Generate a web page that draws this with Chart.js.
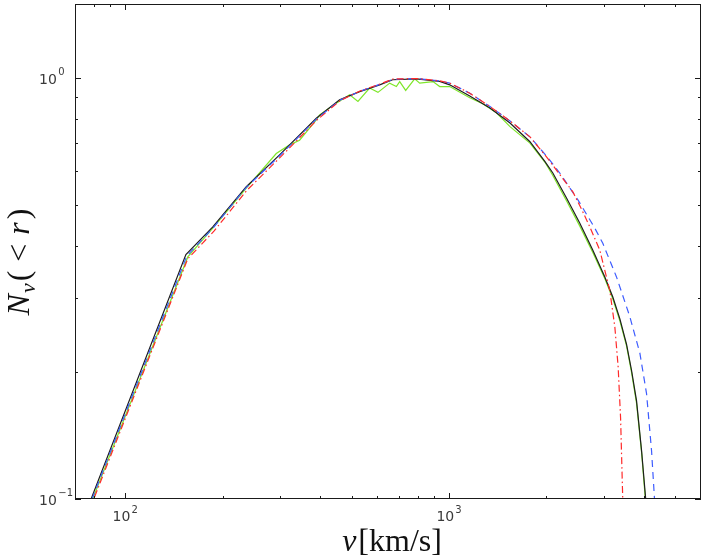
<!DOCTYPE html>
<html>
<head>
<meta charset="utf-8">
<script src="https://cdn.jsdelivr.net/npm/chart.js@4.4.0/dist/chart.umd.min.js"></script>
<style>
    html, body { margin: 0; padding: 0; background: #fff; }
</style>
</head>
<body>
<canvas id="myChart" width="706" height="559"></canvas>
<script>
// velocity (km/s) and N_v(<r), one pair of arrays per curve
const vBlack = [76, 78.5, 154, 186.5, 236.6, 299.8, 389.3, 459.4, 529.7, 610.6, 669.9, 792.8, 936.1, 1005, 1159, 1338, 1543, 1778, 1979, 2092, 2306, 2535, 2781, 3028, 3205, 3370, 3534, 3662, 3794, 3933, 4045, 4100];
const nBlack = [0.094, 0.100, 0.381, 0.443, 0.552, 0.657, 0.803, 0.888, 0.929, 0.964, 0.991, 0.996, 0.982, 0.964, 0.907, 0.849, 0.782, 0.706, 0.633, 0.595, 0.519, 0.452, 0.390, 0.337, 0.302, 0.268, 0.233, 0.202, 0.171, 0.130, 0.101, 0.088];

const vGreen = [77, 79.4, 156.1, 186.5, 236.6, 292.8, 321.9, 345.6, 389.3, 398.6, 443.6, 493.4, 523.4, 568.7, 603.4, 655.8, 687.8, 704.3, 734.9, 783.4, 812, 892.4, 936.1, 1005, 1159, 1271, 1401, 1543, 1778, 1979, 2092, 2306, 2535, 2781, 3028, 3205, 3370, 3534, 3662, 3794, 3933, 4040, 4100];
const nGreen = [0.094, 0.100, 0.376, 0.440, 0.548, 0.662, 0.694, 0.712, 0.796, 0.818, 0.867, 0.913, 0.880, 0.947, 0.925, 0.973, 0.955, 0.981, 0.935, 0.996, 0.973, 0.981, 0.955, 0.955, 0.898, 0.869, 0.827, 0.767, 0.701, 0.631, 0.587, 0.511, 0.445, 0.385, 0.334, 0.299, 0.265, 0.231, 0.200, 0.169, 0.129, 0.100, 0.086];

const vBlue = [76.5, 79, 155, 187, 237, 300, 390, 460, 530, 611, 670, 793, 936, 1005, 1159, 1338, 1543, 1778, 2000, 2198, 2504, 2820, 2985, 3290, 3618, 3885, 4074, 4222, 4301, 4347];
const nBlue = [0.094, 0.100, 0.378, 0.441, 0.551, 0.654, 0.800, 0.886, 0.930, 0.966, 0.993, 0.998, 0.985, 0.973, 0.921, 0.856, 0.791, 0.725, 0.653, 0.595, 0.513, 0.440, 0.405, 0.337, 0.271, 0.222, 0.178, 0.130, 0.103, 0.090];

const vRed = [77.5, 80, 156, 188, 238, 301, 391, 461, 531, 612, 671, 794, 936, 1005, 1159, 1338, 1543, 1778, 2000, 2198, 2412, 2590, 2722, 2922, 3137, 3252, 3329, 3387, 3436, 3450];
const nRed = [0.094, 0.100, 0.372, 0.433, 0.542, 0.648, 0.795, 0.884, 0.932, 0.968, 0.995, 0.998, 0.985, 0.973, 0.921, 0.856, 0.791, 0.725, 0.650, 0.590, 0.537, 0.481, 0.443, 0.390, 0.313, 0.256, 0.206, 0.156, 0.103, 0.090];

// ticks
const xMajor = [100, 1000];
const xMajorExp = ['2', '3'];
const xMinor = [80, 90, 200, 300, 400, 500, 600, 700, 800, 900, 2000, 3000, 4000, 5000];
const yMajor = [0.1, 1];
const yMajorExp = ['\u22121', '0'];
const yMinor = [0.2, 0.3, 0.4, 0.5, 0.6, 0.7, 0.8, 0.9];

const toPoints = (vs, ns) => vs.map((v, i) => ({ x: v, y: ns[i] }));

const lineSet = (label, vs, ns, color, dash) => ({
    label,
    data: toPoints(vs, ns),
    borderColor: color,
    borderWidth: 1.2,
    borderDash: dash,
    pointRadius: 0,
    tension: 0,
    fill: false
});

const decorations = {
    id: 'decorations',
    afterDatasetsDraw(chart) {
        const { ctx, chartArea: a, scales } = chart;
        const sx = scales.x, sy = scales.y;
        ctx.save();
        ctx.strokeStyle = '#1a1a1a';
        ctx.lineWidth = 1;
        ctx.setLineDash([]);
        ctx.beginPath();
        const xTick = (v, len) => {
            const p = Math.round(sx.getPixelForValue(v)) + 0.5;
            ctx.moveTo(p, a.bottom); ctx.lineTo(p, a.bottom - len);
            ctx.moveTo(p, a.top); ctx.lineTo(p, a.top + len);
        };
        const yTick = (v, len) => {
            const p = Math.round(sy.getPixelForValue(v)) + 0.5;
            ctx.moveTo(a.left, p); ctx.lineTo(a.left + len, p);
            ctx.moveTo(a.right, p); ctx.lineTo(a.right - len, p);
        };
        xMajor.forEach(v => xTick(v, 6));
        xMinor.forEach(v => xTick(v, 3));
        yMajor.forEach(v => yTick(v, 6));
        yMinor.forEach(v => yTick(v, 3));
        ctx.stroke();
        ctx.strokeRect(a.left + 0.5, a.top + 0.5, a.right - a.left - 1, a.bottom - a.top - 1);

        // tick labels 10^n
        ctx.fillStyle = '#3a3a3a';
        ctx.textBaseline = 'alphabetic';
        const big = '14px "DejaVu Sans"', small = '10px "DejaVu Sans"';
        xMajor.forEach((v, i) => {
            ctx.font = big;
            const w1 = ctx.measureText('10').width;
            ctx.font = small;
            const w2 = ctx.measureText(xMajorExp[i]).width;
            const left = sx.getPixelForValue(v) - (w1 + w2 + 1) / 2;
            ctx.font = big;
            ctx.textAlign = 'left';
            ctx.fillText('10', left, a.bottom + 22);
            ctx.font = small;
            ctx.fillText(xMajorExp[i], left + w1 + 1, a.bottom + 14);
        });
        yMajor.forEach((v, i) => {
            const p = sy.getPixelForValue(v);
            ctx.font = big;
            ctx.textAlign = 'left';
            const w1 = ctx.measureText('10').width;
            ctx.fillText('10', 39, p + 5.5);
            ctx.font = small;
            ctx.fillText(yMajorExp[i], 39 + w1 + 1.5, p - 3.5);
        });

        // axis titles
        ctx.fillStyle = '#111';
        const it = 'italic 32px "Liberation Serif"', rm = '32px "Liberation Serif"';
        ctx.font = it;
        const wv = ctx.measureText('v').width;
        ctx.font = rm;
        const wr = ctx.measureText('[km/s]').width;
        const x0 = (a.left + a.right) / 2 + 4 - (wv + wr + 2) / 2;
        ctx.font = it;
        ctx.fillText('v', x0, 551);
        ctx.font = rm;
        ctx.fillText('[km/s]', x0 + wv + 2, 551);

        ctx.translate(29, 262);
        ctx.rotate(-Math.PI / 2);
        const parts = [
            ['N', it, 0], ['v', 'italic 22px "Liberation Serif"', 6],
            ['(', rm, 0], ['<', rm, 0], ['r', it, 0], [')', rm, 0]
        ];
        const gaps = [1, 2, 9, 9, 3, 0];
        let total = 0;
        parts.forEach((p, i) => { ctx.font = p[1]; total += ctx.measureText(p[0]).width + gaps[i]; });
        let cx = -total / 2;
        parts.forEach((p, i) => {
            ctx.font = p[1];
            ctx.fillText(p[0], cx, p[2]);
            cx += ctx.measureText(p[0]).width + gaps[i];
        });
        ctx.restore();
    }
};

const conf = {
    type: 'line',
    data: {
        datasets: [
            lineSet('red', vRed, nRed, '#ff2a2a', [7, 3, 1.5, 3]),
            lineSet('blue', vBlue, nBlue, '#3d5cff', [7, 5]),
            lineSet('black', vBlack, nBlack, '#1e1e1e', []),
            lineSet('green', vGreen, nGreen, '#7ee62a', [])
        ]
    },
    options: {
        responsive: false,
        animation: false,
        events: [],
        layout: { padding: { top: 4, right: 5, left: 0, bottom: 0 } },
        plugins: { legend: { display: false }, tooltip: { enabled: false } },
        scales: {
            x: {
                type: 'logarithmic',
                min: 70,
                max: 6000,
                grid: { display: false },
                border: { display: false },
                ticks: { display: false },
                afterFit: (s) => { s.height = 60; }
            },
            y: {
                type: 'logarithmic',
                min: 0.1,
                max: 1.5,
                grid: { display: false },
                border: { display: false },
                ticks: { display: false },
                afterFit: (s) => { s.width = 75; }
            }
        }
    },
    plugins: [decorations]
};

const myChart = new Chart(document.getElementById('myChart'), conf);
</script>
</body>
</html>
